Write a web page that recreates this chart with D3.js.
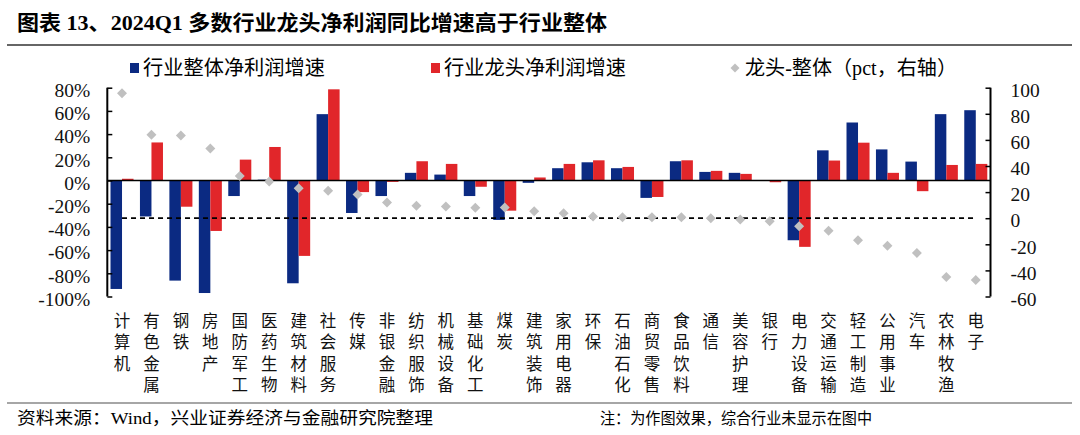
<!DOCTYPE html>
<html><head><meta charset="utf-8">
<script src="https://cdn.jsdelivr.net/npm/d3@7"></script>
<style>
html,body{margin:0;padding:0;background:#fff;}
svg{display:block;}
text{font-family:"Liberation Serif","Noto Sans CJK SC",serif;}
</style></head>
<body><svg id="c" width="1080" height="435"></svg>
<script>
const categories = ["计算机","有色金属","钢铁","房地产","国防军工","医药生物","建筑材料","社会服务","传媒","非银金融","纺织服饰","机械设备","基础化工","煤炭","建筑装饰","家用电器","环保","石油石化","商贸零售","食品饮料","通信","美容护理","银行","电力设备","交通运输","轻工制造","公用事业","汽车","农林牧渔","电子"];
const industryGrowth = [-93.5,-31,-86.3,-97,-13.4,0.7,-88.6,57.2,-28,-13.4,6.6,5.1,-13.4,-34,-2,10.6,15.7,10.6,-15,16.6,7.4,6.6,0.3,-51.5,26,50,26.8,16.3,57.2,60.6];
const leaderGrowth = [1.5,32.8,-22.6,-43.5,18,28.9,-65,78.6,-10,-1.2,16.6,14.3,-5.4,-26,2.6,14.3,17.4,11.7,-14.2,17.4,8.3,5.7,-1.5,-57.2,17.2,32.6,6.6,-9.2,13.4,14.3];
const diffPct = [95.7,64,63.4,53.4,32.3,28.2,23,21,18.2,12,9.5,9,8,8.2,5.4,3.8,1.3,0.8,0.8,0.8,0,-1,-2.3,-6.2,-9.7,-16.9,-21.2,-26.6,-45,-47.4];
const leftTicks = [-100,-80,-60,-40,-20,0,20,40,60,80];
const rightTicks = [-60,-40,-20,0,20,40,60,80,100];
const seriesNames = ["行业整体净利润增速","行业龙头净利润增速","龙头-整体（pct，右轴）"];
const titleText = "图表 13、2024Q1 多数行业龙头净利润同比增速高于行业整体";
const sourceText = "资料来源：Wind，兴业证券经济与金融研究院整理";
const noteText = "注：为作图效果，综合行业未显示在图中";

const BLUE = "#0b2a82", RED = "#e1262a", GRAY = "#c0c0c0";
const svg = d3.select("#c");
const L = 107.3, R = 990.5, T = 87.7, B = 296.5;

const x = d3.scaleBand().domain(categories).range([L, R]).paddingInner(0.218).paddingOuter(0.109);
const x1 = d3.scaleBand().domain([0,1]).range([0, x.bandwidth()]);
const yL = d3.scaleLinear().domain([-100, 80]).range([B, T]);
const yR = d3.scaleLinear().domain([-60, 100]).range([B, T]);

// title
svg.append("text").attr("x", 17).attr("y", 30).attr("font-size", 21).attr("font-weight", "bold")
  .attr("textLength", 590).attr("lengthAdjust", "spacingAndGlyphs").text(titleText);
svg.append("line").attr("x1", 7).attr("x2", 1072).attr("y1", 45).attr("y2", 45).attr("stroke", "#666").attr("stroke-width", 2);

// legend
const lg = svg.append("g");
lg.append("rect").attr("x", 130).attr("y", 63).attr("width", 9).attr("height", 10).attr("fill", BLUE);
lg.append("text").attr("x", 143).attr("y", 75).attr("font-size", 20).attr("textLength", 182).attr("lengthAdjust","spacingAndGlyphs").text(seriesNames[0]);
lg.append("rect").attr("x", 431).attr("y", 63).attr("width", 9).attr("height", 10).attr("fill", RED);
lg.append("text").attr("x", 444).attr("y", 75).attr("font-size", 20).attr("textLength", 182).attr("lengthAdjust","spacingAndGlyphs").text(seriesNames[1]);
lg.append("path").attr("d", d3.symbol(d3.symbolSquare, 40)()).attr("transform", "translate(735,68) rotate(45)").attr("fill", GRAY);
lg.append("text").attr("x", 745).attr("y", 75).attr("font-size", 20).attr("textLength", 212).attr("lengthAdjust","spacingAndGlyphs").text(seriesNames[2]);

// bars
const g = svg.append("g");
[industryGrowth, leaderGrowth].forEach((arr, si) => {
  g.selectAll(null).data(arr).enter().append("rect")
    .attr("x", (d,i) => x(categories[i]) + x1(si))
    .attr("width", x1.bandwidth())
    .attr("y", d => Math.min(yL(d), yL(0)))
    .attr("height", d => Math.abs(yL(d) - yL(0)))
    .attr("fill", si === 0 ? BLUE : RED);
});

// zero line
svg.append("line").attr("x1", L).attr("x2", R).attr("y1", yL(0)).attr("y2", yL(0)).attr("stroke", "#000").attr("stroke-width", 1.6);

// dashed right-axis zero reference
svg.append("line")
  .attr("x1", x(categories[0]) + x.bandwidth()/2).attr("x2", x(categories[categories.length-1]) + x.bandwidth()/2)
  .attr("y1", yR(0)).attr("y2", yR(0)).attr("stroke", "#000").attr("stroke-width", 1.8).attr("stroke-dasharray", "5,4");

// diamonds
svg.append("g").selectAll("path").data(diffPct).enter().append("path")
  .attr("d", d3.symbol(d3.symbolSquare, 50)())
  .attr("transform", (d,i) => `translate(${x(categories[i]) + x.bandwidth()/2},${yR(d)}) rotate(45)`)
  .attr("fill", GRAY);

// axes
const axL = d3.axisLeft(yL).tickValues(leftTicks).tickFormat(d => d + "%").tickSize(-5).tickPadding(17);
const gL = svg.append("g").attr("transform", `translate(${L},0)`).call(axL);
const axR = d3.axisRight(yR).tickValues(rightTicks).tickFormat(d => d).tickSize(-5).tickPadding(20);
const gR = svg.append("g").attr("transform", `translate(${R},0)`).call(axR);
[gL, gR].forEach(ga => {
  ga.select(".domain").attr("stroke", "#000").attr("stroke-width", 2).attr("d", `M0,${T}V${B}`);
  ga.selectAll(".tick line").attr("stroke", "#000").attr("stroke-width", 1.5);
  ga.selectAll(".tick text").attr("font-size", 19.5).attr("fill", "#111").attr("dy", "0.45em")
    .style("font-family", "'Liberation Serif',serif");
});

// x labels (vertical, one text per category)
svg.append("g").selectAll("text").data(categories).enter().append("text")
  .attr("x", d => x(d) + x.bandwidth()/2)
  .attr("y", 312)
  .attr("font-size", 16.5).attr("fill", "#111")
  .style("font-family", "'Noto Sans CJK SC'")
  .style("writing-mode", "vertical-rl")
  .style("text-orientation", "upright")
  .style("letter-spacing", "5px")
  .text(d => d);

// footer
svg.append("line").attr("x1", 7).attr("x2", 1072).attr("y1", 403).attr("y2", 403).attr("stroke", "#888").attr("stroke-width", 1.5);
svg.append("text").attr("x", 17).attr("y", 424).attr("font-size", 17).attr("textLength", 416).attr("lengthAdjust","spacingAndGlyphs").text(sourceText);
svg.append("text").attr("x", 600).attr("y", 424).attr("font-size", 16).attr("textLength", 272).attr("lengthAdjust","spacingAndGlyphs").text(noteText);
</script></body></html>
